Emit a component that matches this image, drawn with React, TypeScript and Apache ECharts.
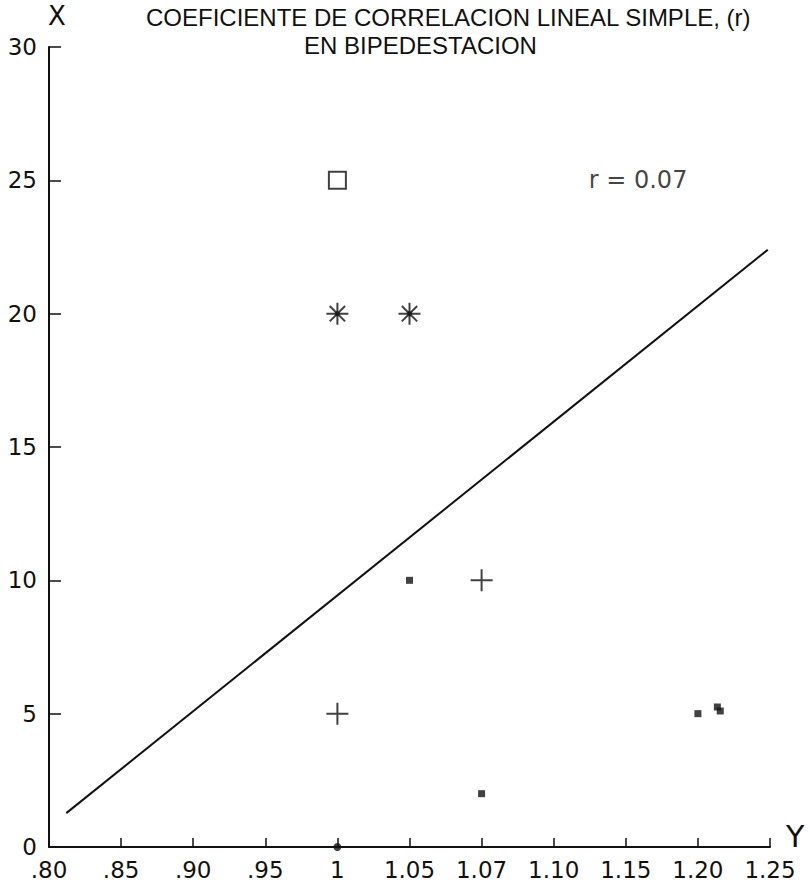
import React, { useEffect, useRef } from "react";
import * as echarts from "echarts";

const titleLine1 = "COEFICIENTE DE CORRELACION LINEAL SIMPLE, (r)";
const titleLine2 = "EN BIPEDESTACION";
const xTickLabels = [".80", ".85", ".90", ".95", "1", "1.05", "1.07", "1.10", "1.15", "1.20", "1.25"];
// x values are positions along the (non-linear) tick list: 0 = .80 ... 10 = 1.25
const openSquarePoints = [[4, 25]];
const asteriskPoints = [[4, 20], [5, 20]];
const plusPoints = [[6, 10], [4, 5]];
const smallSquarePoints = [[5, 10], [6, 2], [9, 5], [9.27, 5.25], [9.31, 5.1]];
const dotPoints = [[4, 0]];
const regressionLine = [[0.24, 1.27], [9.97, 22.4]];
const rLabel = "r = 0.07";
const rLabelPos = [8.17, 25];

const INK = "#111";

export default function App() {
  const ref = useRef<HTMLDivElement>(null);
  useEffect(() => {
    document.body.style.margin = "0";
    const chart = echarts.init(ref.current!, null, { renderer: "svg" });
    const tickFont = "DejaVu Sans";
    chart.setOption({
      animation: false,
      backgroundColor: "#fff",
      title: [
        {
          text: titleLine1,
          left: 141,
          top: 0,
          textStyle: { fontFamily: "Liberation Sans", fontSize: 24, fontWeight: "normal", color: INK },
        },
        {
          text: titleLine2,
          left: 299,
          top: 28,
          textStyle: { fontFamily: "Liberation Sans", fontSize: 24, fontWeight: "normal", color: INK },
        },
      ],
      grid: { left: 49, right: 40, top: 47, bottom: 35, containLabel: false },
      xAxis: {
        type: "value",
        min: 0,
        max: 10,
        interval: 1,
        splitLine: { show: false },
        axisLine: { show: true, onZero: false, lineStyle: { color: INK, width: 2 } },
        axisTick: { show: true, inside: true, length: 9, lineStyle: { color: INK, width: 1.5 } },
        axisLabel: {
          show: true,
          margin: 11,
          fontFamily: tickFont,
          fontSize: 23,
          color: INK,
          showMinLabel: true,
          showMaxLabel: true,
          formatter: (v: number) => xTickLabels[Math.round(v)] ?? "",
        },
      },
      yAxis: {
        type: "value",
        min: 0,
        max: 30,
        interval: 5,
        splitLine: { show: false },
        axisLine: { show: true, onZero: false, lineStyle: { color: INK, width: 2 } },
        axisTick: { show: true, inside: true, length: 12, lineStyle: { color: INK, width: 1.5 } },
        axisLabel: {
          show: true,
          margin: 12,
          fontFamily: tickFont,
          fontSize: 23,
          color: INK,
          showMinLabel: true,
          showMaxLabel: true,
        },
      },
      graphic: [
        {
          type: "text",
          left: 48,
          top: 3,
          style: { text: "X", fontFamily: tickFont, fontSize: 26, fontWeight: "normal", fill: INK },
        },
        {
          type: "text",
          left: 786,
          top: 821,
          style: { text: "Y", fontFamily: tickFont, fontSize: 30, fontWeight: "normal", fill: INK },
        },
      ],
      series: [
        {
          type: "line",
          data: regressionLine,
          symbol: "none",
          lineStyle: { color: INK, width: 2 },
          silent: true,
          z: 2,
        },
        {
          type: "scatter",
          data: openSquarePoints,
          symbol: "rect",
          symbolSize: 17,
          itemStyle: { color: "rgba(0,0,0,0)", borderColor: INK, borderWidth: 2 },
          clip: false,
        },
        {
          type: "scatter",
          data: asteriskPoints,
          symbol: "path://M10,0L10,20M0,10L20,10M3,3L17,17M3,17L17,3",
          symbolSize: 22,
          itemStyle: { color: "rgba(0,0,0,0)", borderColor: INK, borderWidth: 2 },
          clip: false,
        },
        {
          type: "scatter",
          data: asteriskPoints,
          symbol: "circle",
          symbolSize: 5,
          itemStyle: { color: INK },
          clip: false,
        },
        {
          type: "scatter",
          data: plusPoints,
          symbol: "path://M10,0L10,20M0,10L20,10",
          symbolSize: 22,
          itemStyle: { color: "rgba(0,0,0,0)", borderColor: INK, borderWidth: 2 },
          clip: false,
        },
        {
          type: "scatter",
          data: smallSquarePoints,
          symbol: "rect",
          symbolSize: 7,
          itemStyle: { color: INK },
          clip: false,
        },
        {
          type: "scatter",
          data: dotPoints,
          symbol: "circle",
          symbolSize: 8,
          itemStyle: { color: INK },
          clip: false,
          z: 5,
        },
        {
          type: "scatter",
          data: [rLabelPos],
          symbolSize: 0,
          itemStyle: { color: "rgba(0,0,0,0)" },
          label: {
            show: true,
            position: "inside",
            formatter: () => rLabel,
            fontFamily: tickFont,
            fontSize: 24,
            color: INK,
          },
          silent: true,
        },
      ],
    });
    return () => chart.dispose();
  }, []);
  return <div ref={ref} style={{ width: 810, height: 882 }} />;
}
